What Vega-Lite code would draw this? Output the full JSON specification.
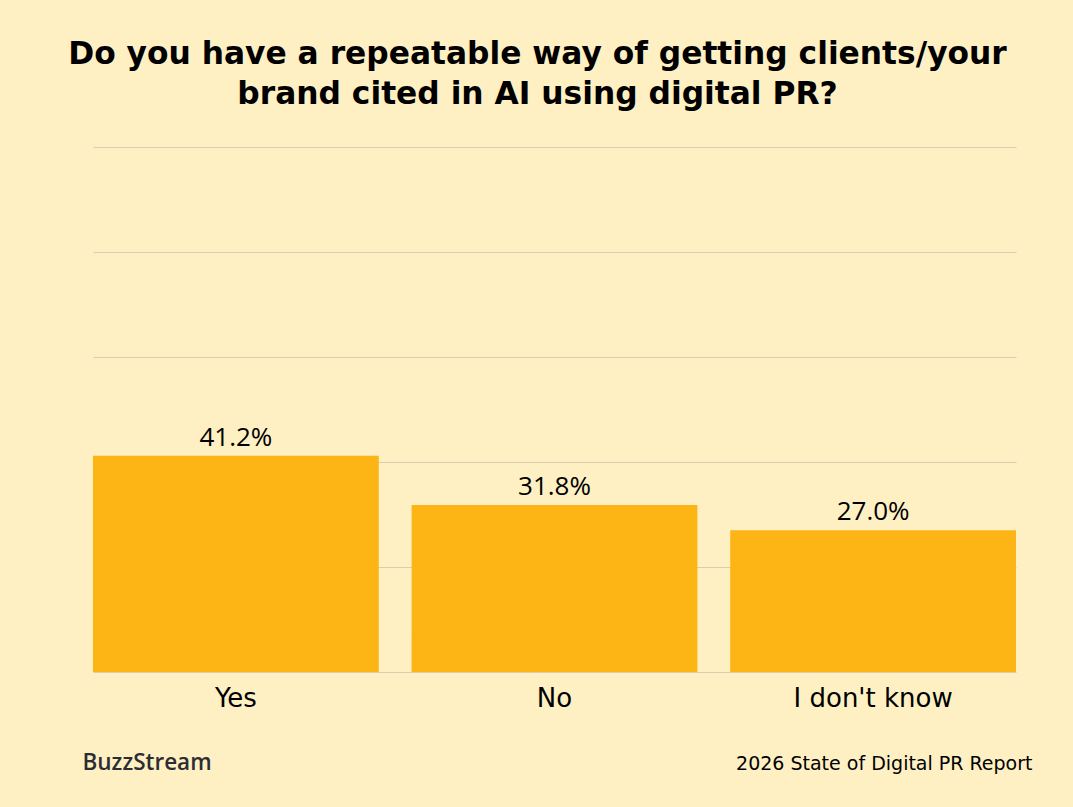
{
  "$schema": "https://vega.github.io/schema/vega-lite/v6.json",
  "width": 923,
  "height": 525,
  "autosize": {"type": "none"},
  "padding": {"left": 93, "top": 147, "right": 57, "bottom": 135},
  "background": "#FFF0C4",
  "config": {"view": {"stroke": null}, "font": "Open Sans"},
  "title": {
    "text": ["Do you have a repeatable way of getting clients/your", "brand cited in AI using digital PR?"],
    "fontSize": 31.3,
    "fontWeight": "bold",
    "font": "DejaVu Sans",
    "color": "#000000",
    "anchor": "middle",
    "dx": -17,
    "offset": 37,
    "lineHeight": 40
  },
  "data": {"values": [
    {"answer": "Yes", "pct": 41.2, "label": "41.2%"},
    {"answer": "No", "pct": 31.8, "label": "31.8%"},
    {"answer": "I don't know", "pct": 27.0, "label": "27.0%"}
  ]},
  "encoding": {
    "x": {
      "field": "answer", "type": "nominal", "sort": null,
      "scale": {"paddingInner": 0.103, "paddingOuter": 0},
      "axis": {
        "labelAngle": 0, "labelFontSize": 26, "labelColor": "#000000", "labelFont": "DejaVu Sans",
        "labelPadding": 13, "ticks": false, "domain": false,
        "title": "2026 State of Digital PR Report", "titleFont": "DejaVu Sans",
        "titleFontSize": 19, "titleFontWeight": "normal", "titleColor": "#000000",
        "titleAnchor": "end", "titleAlign": "right", "titleX": 939, "titleY": 97,
        "titleBaseline": "alphabetic"
      }
    },
    "y": {
      "field": "pct", "type": "quantitative",
      "scale": {"domain": [0, 100]},
      "axis": {
        "values": [0, 20, 40, 60, 80, 100], "labels": false, "ticks": false, "domain": false,
        "grid": true, "gridColor": "#D8CEAD", "gridWidth": 1,
        "title": "BuzzStream", "titleFont": "Open Sans", "titleAngle": 0, "titleFontSize": 22.5, "titleFontWeight": 600,
        "titleColor": "#2B2D33", "titleAlign": "left", "titleBaseline": "alphabetic",
        "titleX": -11, "titleY": 622
      }
    }
  },
  "layer": [
    {"mark": {"type": "bar", "color": "#FDB515"}},
    {"mark": {"type": "text", "baseline": "bottom", "dy": -5, "fontSize": 26, "color": "#000000", "font": "Open Sans"},
     "encoding": {"text": {"field": "label"}}}
  ]
}
